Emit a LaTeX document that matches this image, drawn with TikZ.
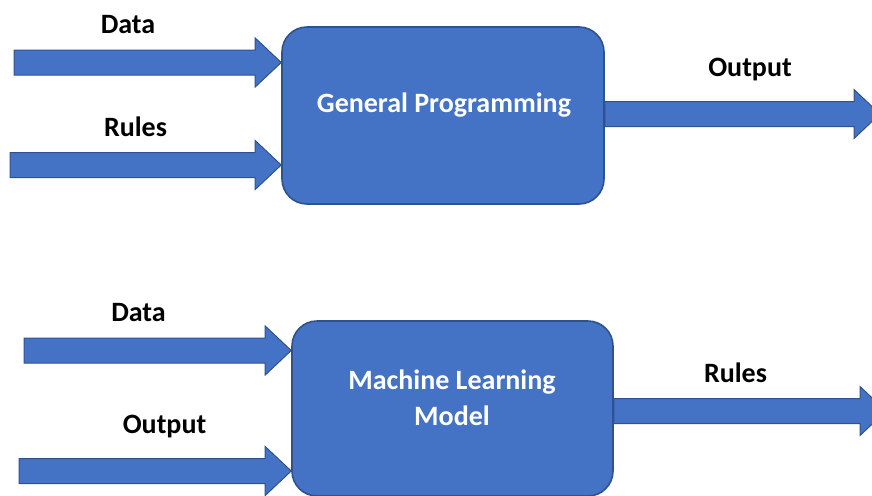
\documentclass[tikz,border=0pt]{standalone}
\usepackage{fontspec}
\setmainfont{Carlito}
\usetikzlibrary{positioning,calc}

\definecolor{fillblue}{HTML}{4472C4}
\definecolor{edgeblue}{HTML}{2F528F}

\begin{document}
\begin{tikzpicture}[
  x=0.5pt, y=0.5pt,
  procbox/.style={draw=edgeblue,fill=fillblue,line width=0.8pt,rounded corners=12.5pt,inner sep=0pt},
  boxtext/.style={text=white,font=\bfseries\fontsize{14}{18}\selectfont,align=center},
  lbl/.style={font=\bfseries\fontsize{14}{17}\selectfont,anchor=base},
  blockarrow/.style={draw=edgeblue,fill=fillblue,line width=0.5pt,
    to path={let \p1=(\tikztostart), \p2=(\tikztotarget) in
      (\x1,\y1+6.25pt) -- (\x2-13pt,\y1+6.25pt) -- (\x2-13pt,\y1+12.25pt) -- (\x2,\y1)
      -- (\x2-13pt,\y1-12.25pt) -- (\x2-13pt,\y1-6.25pt) -- (\x1,\y1-6.25pt) -- cycle}}
]
\useasboundingbox (0,0) rectangle (872,495);

% the two processes
\node[procbox,minimum width=161pt,minimum height=88.5pt] (gp) at (443,379.5) {};
\node[procbox,minimum width=160.5pt,minimum height=87.5pt] (ml) at (452.5,86.5) {};
\node[boxtext,anchor=base] (gptext) at (444,382.3) {General Programming};
\node[boxtext] (mltext) at (452,97.5) {Machine Learning\\Model};

% ends of the arrows
\coordinate (d1) at (14,432.5);
\coordinate (r1) at (10,330);
\coordinate (o1) at (880,381);
\coordinate (d2) at (24,144.5);
\coordinate (o2) at (19,24);
\coordinate (r2) at (886,84);

\draw[blockarrow] (d1) to (gp.west |- d1);
\draw[blockarrow] (r1) to (gp.west |- r1);
\draw[blockarrow] (gp.east |- o1) to (o1);
\draw[blockarrow] (d2) to (ml.west |- d2);
\draw[blockarrow] (o2) to (ml.west |- o2);
\draw[blockarrow] (ml.east |- r2) to (r2);

% labels
\node[lbl] (datagp) at (128,462) {Data};
\node[lbl] (rulesgp) at (135.5,359) {Rules};
\node[lbl] (outgp) at (750,419) {Output};
\node[lbl] (dataml) at (138.5,174) {Data};
\node[lbl] (outml) at (164.5,62) {Output};
\node[lbl] (rulesml) at (735.5,113) {Rules};
\end{tikzpicture}
\end{document}
